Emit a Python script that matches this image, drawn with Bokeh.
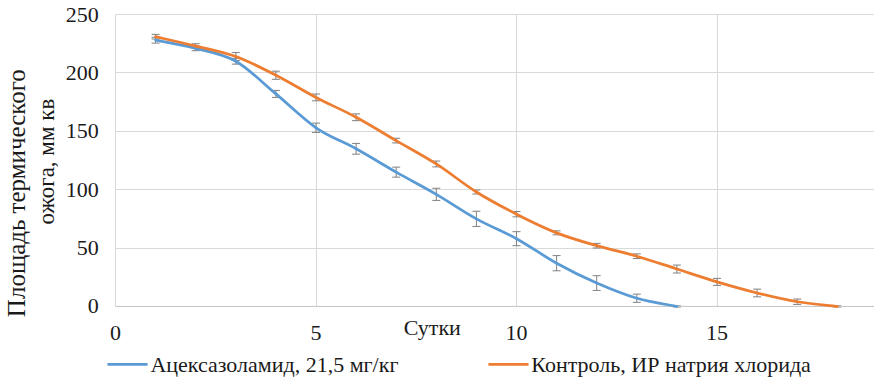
import math
from bokeh.plotting import figure
from bokeh.models import ColumnDataSource, Whisker, TeeHead, Label, FixedTicker, Range1d
from bokeh.embed import file_html
from bokeh.resources import INLINE

# ---- data ----
days_blue = [1, 2, 3, 4, 5, 6, 7, 8, 9, 10, 11, 12, 13, 14]
area_blue = [228, 221, 210, 182, 153, 135, 115, 96, 75, 58, 37, 20, 7, 0]
err_blue = [2.5, 2, 2.5, 3, 4, 4.6, 4.3, 5.2, 6.5, 6, 6.5, 6.3, 3.5, 0.5]

days_orange = [1, 2, 3, 4, 5, 6, 7, 8, 9, 10, 11, 12, 13, 14, 15, 16, 17, 18]
area_orange = [231, 223, 214, 198, 179, 162, 142, 122, 98, 79, 63, 52, 43, 32, 21, 11.5, 4, 0]
err_orange = [2, 2, 3.4, 3.5, 2.9, 2.9, 2, 2.5, 1.7, 2.3, 1.7, 2, 2, 3.4, 3, 3.3, 2.3, 0.5]

label_blue = "Ацексазоламид, 21,5 мг/кг"
label_orange = "Контроль, ИР натрия хлорида"
x_ticks = [0, 5, 10, 15]
x_tick_labels = ["0", "5", "10", "15"]
y_ticks = [0, 50, 100, 150, 200, 250]
y_tick_labels = ["0", "50", "100", "150", "200", "250"]
x_title = "Сутки"
y_title_1 = "Площадь термического"
y_title_2 = "ожога, мм кв"

BLUE = "#5B9BD5"
ORANGE = "#ED7D31"
FONT = "Times New Roman"
TXT = "#1a1a1a"

# plotting frame covers the whole canvas; px per unit: x 40.1, y 1.166
X0, X1 = -115 / 40.1, 759 / 40.1
Y1, Y0 = 250 + 14 / 1.166, -(379 - 306) / 1.166


def smooth_segments(xs, ys):
    n = len(xs)
    d = dict(x0=[], y0=[], x1=[], y1=[], cx0=[], cy0=[], cx1=[], cy1=[])
    for i in range(n - 1):
        im1 = max(i - 1, 0)
        ip2 = min(i + 2, n - 1)
        d["x0"].append(xs[i]); d["y0"].append(ys[i])
        d["x1"].append(xs[i + 1]); d["y1"].append(ys[i + 1])
        d["cx0"].append(xs[i] + (xs[i + 1] - xs[im1]) / 6)
        d["cy0"].append(ys[i] + (ys[i + 1] - ys[im1]) / 6)
        d["cx1"].append(xs[i + 1] - (xs[ip2] - xs[i]) / 6)
        d["cy1"].append(ys[i + 1] - (ys[ip2] - ys[i]) / 6)
    return ColumnDataSource(d)


def text(x, y, t, size="22px", align="center", angle=0.0):
    p.add_layout(Label(x=x, y=y, text=t, text_font=FONT, text_font_size=size,
                       text_color=TXT, text_align=align, text_baseline="middle",
                       angle=angle))


p = figure(width=874, height=379, output_backend="svg", toolbar_location=None,
           x_range=Range1d(X0, X1), y_range=Range1d(Y0, Y1),
           min_border_left=0, min_border_right=0, min_border_top=0, min_border_bottom=0)
p.outline_line_color = None
p.xaxis.visible = False
p.yaxis.visible = False

p.xgrid.ticker = FixedTicker(ticks=x_ticks + [20])
p.ygrid.ticker = FixedTicker(ticks=y_ticks)
p.xgrid.grid_line_color = "#d9d9d9"
p.ygrid.grid_line_color = "#d9d9d9"
p.xgrid.cross_bounds = (0, 250)
p.ygrid.cross_bounds = (0, X1)

# x axis baseline
p.segment(x0=[0], y0=[0], x1=[X1], y1=[0], line_color="#c8c8c8", line_width=1)

# tick labels
for xv, lab in zip(x_ticks, x_tick_labels):
    text(xv, -22.5, lab)
for yv, lab in zip(y_ticks, y_tick_labels):
    text(-0.42, yv, lab, align="right")

# smoothed series lines
src_b = smooth_segments(days_blue, area_blue)
src_o = smooth_segments(days_orange, area_orange)
p.bezier(x0="x0", y0="y0", x1="x1", y1="y1", cx0="cx0", cy0="cy0", cx1="cx1", cy1="cy1",
         source=src_b, line_color=BLUE, line_width=2.75, line_cap="round")
p.bezier(x0="x0", y0="y0", x1="x1", y1="y1", cx0="cx0", cy0="cy0", cx1="cx1", cy1="cy1",
         source=src_o, line_color=ORANGE, line_width=2.75, line_cap="round")

# error bars
for xs, ys, es in ((days_blue, area_blue, err_blue), (days_orange, area_orange, err_orange)):
    s = ColumnDataSource(dict(x=xs, up=[y + e for y, e in zip(ys, es)],
                              lo=[y - e for y, e in zip(ys, es)]))
    w = Whisker(source=s, base="x", upper="up", lower="lo", dimension="height",
                line_color="#808080", line_width=1,
                upper_head=TeeHead(size=8, line_color="#808080", line_width=1),
                lower_head=TeeHead(size=8, line_color="#808080", line_width=1))
    p.add_layout(w)

# axis titles
text(7.9, -18, x_title)
text(-2.47, 97, y_title_1, size="25px", angle=math.pi / 2)
text(-1.72, 124, y_title_2, size="23px", angle=math.pi / 2)

# legend (below the axis)
LEG_Y = -49.7
p.segment(x0=[-0.2, 9.3], y0=[LEG_Y, LEG_Y], x1=[0.8, 10.3], y1=[LEG_Y, LEG_Y],
          line_color=[BLUE, ORANGE], line_width=2.75)
text(0.87, LEG_Y, label_blue, align="left")
text(10.37, LEG_Y, label_orange, align="left")

open("out.html", "w").write(file_html(p, INLINE))
